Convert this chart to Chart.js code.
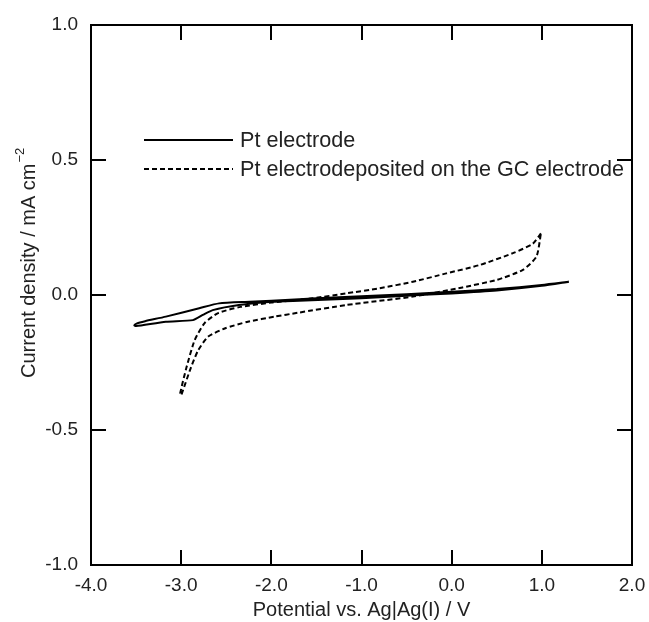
<!DOCTYPE html>
<html>
<head>
<meta charset="utf-8">
<script src="https://cdn.jsdelivr.net/npm/chart.js@4/dist/chart.umd.min.js"></script>
<style>
  html, body { margin: 0; padding: 0; background: #fff; }
  #wrap { width: 649px; height: 622px; }
</style>
</head>
<body>
<div id="wrap"><canvas id="cv"></canvas></div>
<script>
// --- data ---

// Pt electrode (solid), closed loop
const ptPotential = [1.30, 1.00, 0.50, 0.00, -0.50, -1.00, -1.50, -1.69, -2.00, -2.24, -2.58, -2.80, -3.17, -3.40, -3.49, -3.52,
  -3.50, -3.17, -2.87, -2.76, -2.65, -2.36, -1.99, -1.69, -1.00, -0.50, 0.00, 0.50, 1.00, 1.30];
const ptCurrent = [0.049, 0.037, 0.022, 0.012, 0.003, -0.005, -0.012, -0.016, -0.021, -0.025, -0.031, -0.049, -0.080, -0.097, -0.105, -0.112,
  -0.115, -0.099, -0.093, -0.074, -0.056, -0.037, -0.025, -0.021, -0.012, -0.003, 0.006, 0.017, 0.034, 0.049];

// Pt electrodeposited on GC (dashed), closed loop
const gcPotential = [0.99, 0.90, 0.68, 0.31, -0.06, -0.43, -0.80, -1.17, -1.54, -1.91, -2.00, -2.34, -2.59, -2.74, -2.85, -2.94, -3.01, -3.00,
  -2.99, -2.89, -2.81, -2.70, -2.51, -2.26, -1.96, -1.71, -1.17, -0.43, 0.12, 0.50, 0.79, 0.94, 0.99];
const gcCurrent = [0.228, 0.190, 0.155, 0.111, 0.080, 0.049, 0.025, 0.006, -0.012, -0.025, -0.028, -0.044, -0.067, -0.104, -0.167, -0.267, -0.363, -0.372,
  -0.363, -0.267, -0.204, -0.154, -0.123, -0.099, -0.080, -0.066, -0.037, -0.006, 0.028, 0.056, 0.093, 0.142, 0.228];

const xTicks = [-4, -3, -2, -1, 0, 1, 2];
const yTicks = [-1, -0.5, 0, 0.5, 1];
const seriesNames = ['Pt electrode', 'Pt electrodeposited on the GC electrode'];

const toPoints = (xs, ys) => xs.map((x, i) => ({ x, y: ys[i] }));

const FONT = '"Liberation Sans", Arial, sans-serif';

// ramka, wewnetrzne kreski podzialki, tytuly osi i legenda
const decorPlugin = {
  id: 'decor',
  afterDraw(chart) {
    const { ctx, chartArea: a, scales: { x, y } } = chart;
    ctx.save();
    ctx.strokeStyle = '#000';
    ctx.lineWidth = 2;
    ctx.strokeRect(a.left, a.top, a.right - a.left, a.bottom - a.top);

    const tl = 15;
    ctx.beginPath();
    xTicks.forEach(v => {
      const px = Math.round(x.getPixelForValue(v));
      ctx.moveTo(px, a.bottom); ctx.lineTo(px, a.bottom - tl);
      ctx.moveTo(px, a.top); ctx.lineTo(px, a.top + tl);
    });
    yTicks.forEach(v => {
      const py = Math.round(y.getPixelForValue(v));
      ctx.moveTo(a.left, py); ctx.lineTo(a.left + tl, py);
      ctx.moveTo(a.right, py); ctx.lineTo(a.right - tl, py);
    });
    ctx.stroke();

    ctx.fillStyle = '#222';
    // x title
    ctx.font = '20px ' + FONT;
    ctx.textAlign = 'center';
    ctx.textBaseline = 'alphabetic';
    ctx.fillText('Potential vs. Ag|Ag(I) / V', (a.left + a.right) / 2, 616);

    // y title with superscript
    ctx.save();
    ctx.translate(35, 378);
    ctx.rotate(-Math.PI / 2);
    ctx.textAlign = 'left';
    ctx.font = '20px ' + FONT;
    const main = 'Current density / mA cm';
    ctx.fillText(main, 0, 0);
    const w = ctx.measureText(main).width;
    ctx.font = '13px ' + FONT;
    ctx.fillText('\u22122', w + 1, -11);
    ctx.restore();

    // legend
    const ds = chart.data.datasets;
    const rows = [140, 169];
    ds.forEach((d, i) => {
      ctx.strokeStyle = '#000';
      ctx.lineWidth = 2;
      ctx.setLineDash(d.borderDash || []);
      ctx.beginPath();
      ctx.moveTo(144, rows[i]);
      ctx.lineTo(233, rows[i]);
      ctx.stroke();
      ctx.setLineDash([]);
      ctx.font = '21.6px ' + FONT;
      ctx.textAlign = 'left';
      ctx.textBaseline = 'middle';
      ctx.fillText(d.label, 240, rows[i] + 1);
    });
    ctx.restore();
  }
};

new Chart(document.getElementById('cv'), {
  type: 'scatter',
  data: {
    datasets: [
      {
        label: seriesNames[0],
        data: toPoints(ptPotential, ptCurrent),
        showLine: true,
        borderColor: '#000',
        borderWidth: 2,
        pointRadius: 0,
        tension: 0.2
      },
      {
        label: seriesNames[1],
        data: toPoints(gcPotential, gcCurrent),
        showLine: true,
        borderColor: '#000',
        borderWidth: 2,
        borderDash: [5, 3],
        pointRadius: 0,
        tension: 0.2
      }
    ]
  },
  options: {
    responsive: true,
    maintainAspectRatio: false,
    animation: false,
    layout: { padding: { top: 25, right: 0, left: 0, bottom: 0 } },
    plugins: { legend: { display: false }, tooltip: { enabled: false } },
    scales: {
      x: {
        type: 'linear',
        min: -4, max: 2,
        grid: { display: false },
        border: { display: false },
        afterFit: s => { s.height = 57; s.paddingRight = 17; s.paddingLeft = 0; },
        afterBuildTicks: s => { s.ticks = xTicks.map(v => ({ value: v })); },
        ticks: {
          padding: 1,
          color: '#222',
          font: { family: FONT, size: 19 },
          callback: v => v.toFixed(1)
        }
      },
      y: {
        type: 'linear',
        min: -1, max: 1,
        grid: { display: false },
        border: { display: false },
        afterFit: s => { s.width = 91; },
        afterBuildTicks: s => { s.ticks = yTicks.map(v => ({ value: v })); },
        ticks: {
          padding: 5,
          color: '#222',
          font: { family: FONT, size: 19 },
          callback: v => v.toFixed(1)
        }
      }
    }
  },
  plugins: [decorPlugin]
});
</script>
</body>
</html>
